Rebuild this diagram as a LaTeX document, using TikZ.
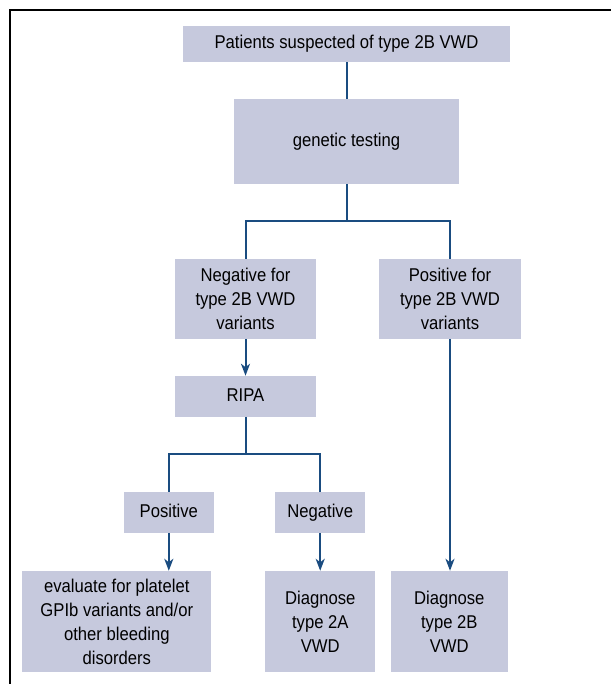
\documentclass[tikz,border=0pt]{standalone}
\usepackage{fontspec}
\setmainfont{Liberation Sans}[FakeStretch=0.9]
\usetikzlibrary{arrows.meta}
\definecolor{boxfill}{RGB}{198,201,221}
\definecolor{linkblue}{RGB}{26,76,128}
\begin{document}
\begin{tikzpicture}[x=1pt,y=-1pt,
  flowbox/.style={rectangle,fill=boxfill,inner sep=0pt,align=center,
    font=\fontsize{18.5}{24}\selectfont},
  oneline/.style={text height=13.5pt,text depth=4pt},
  link/.style={draw=linkblue,line width=2pt},
  arr/.style={link,-{Stealth[length=12pt,width=9pt,inset=3.5pt]}}]
\useasboundingbox (0,0) rectangle (611,684);
\draw[line width=2pt,black] (10,684) -- (10,10) -- (611,10);

\node[flowbox,oneline,minimum width=327pt,minimum height=36pt] (top) at (346.5,44) {Patients suspected of type 2B VWD};
\node[flowbox,oneline,minimum width=225.3pt,minimum height=84.7pt] (gen) at (346.5,141.3) {genetic testing};
\node[flowbox,minimum width=141.6pt,minimum height=79.7pt] (neg) at (245.5,298.8) {Negative for\\type 2B VWD\\variants};
\node[flowbox,minimum width=142pt,minimum height=79.7pt] (pos) at (450,298.8) {Positive for\\type 2B VWD\\variants};
\node[flowbox,oneline,minimum width=141.6pt,minimum height=40.7pt] (ripa) at (245.5,396.3) {RIPA};
\node[flowbox,oneline,minimum width=89.7pt,minimum height=40.7pt] (rpos) at (168.8,512.3) {Positive};
\node[flowbox,oneline,minimum width=89.7pt,minimum height=40.7pt] (rneg) at (320.2,512.3) {Negative};
\node[flowbox,minimum width=189pt,minimum height=101pt] (eval) at (116.8,621.5) {evaluate for platelet\\GPIb variants and/or\\other bleeding\\disorders};
\node[flowbox,minimum width=110pt,minimum height=101pt] (dA) at (320.3,621.5) {Diagnose\\type 2A\\VWD};
\node[flowbox,minimum width=116.7pt,minimum height=101pt] (dB) at (449.3,621.5) {Diagnose\\type 2B\\VWD};

\coordinate (b1) at (346.5,220.7);
\coordinate (b2) at (245.5,454);

\draw[link] (top.south) -- (gen.north);
\draw[link] (gen.south) -- (b1);
\draw[link] (neg.north) |- (b1) -| (pos.north);
\draw[arr] (neg.south) -- (ripa.north);
\draw[link] (ripa.south) -- (b2);
\draw[link] (rpos.north) |- (b2) -| (rneg.north);
\draw[arr] (rpos.south) -- (rpos.south |- eval.north);
\draw[arr] (rneg.south) -- (rneg.south |- dA.north);
\draw[arr] (pos.south) -- (pos.south |- dB.north);
\end{tikzpicture}
\end{document}
